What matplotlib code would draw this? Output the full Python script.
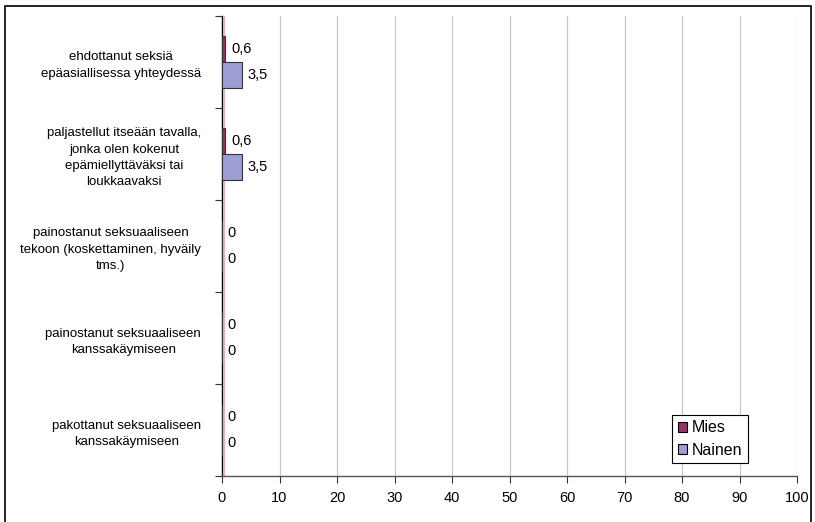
import numpy as np
import matplotlib.pyplot as plt
from matplotlib.patches import Rectangle, Patch

plt.rcParams['font.family'] = ['Liberation Sans', 'DejaVu Sans']

# categories, top to bottom as in the chart
categories = [
    "ehdottanut seksiä\nepäasiallisessa yhteydessä",
    "paljastellut itseään tavalla,\njonka olen kokenut\nepämiellyttäväksi tai\nloukkaavaksi",
    "painostanut seksuaaliseen\ntekoon (koskettaminen, hyväily\ntms.)",
    "painostanut seksuaaliseen\nkanssakäymiseen",
    "pakottanut seksuaaliseen\nkanssakäymiseen",
]
mies = [0.6, 0.6, 0, 0, 0]
nainen = [3.5, 3.5, 0, 0, 0]
x_ticks = list(range(0, 101, 10))

mies_color = "#993366"
nainen_color = "#9C9ED4"

fig = plt.figure(figsize=(8.15, 5.22), dpi=100)
ax = fig.add_axes([222 / 815, 1 - 476 / 522, 575 / 815, 460 / 522])

n = len(categories)
y = np.arange(n)[::-1].astype(float)
h = 0.286

ax.barh(y + h / 2, mies, height=h, color=mies_color, edgecolor="#333333", linewidth=0.8, zorder=3)
ax.barh(y - h / 2, nainen, height=h, color=nainen_color, edgecolor="#333333", linewidth=0.8, zorder=3)

def fmt(v):
    return f"{v:g}".replace(".", ",")

for yi, v in zip(y, mies):
    ax.annotate(fmt(v), (v, yi + h / 2), xytext=(4, 0), textcoords="offset points",
                va="center", ha="left", fontsize=10.5)
for yi, v in zip(y, nainen):
    ax.annotate(fmt(v), (v, yi - h / 2), xytext=(4, 0), textcoords="offset points",
                va="center", ha="left", fontsize=10.5)

ax.set_xlim(0, 100)
ax.set_ylim(-0.5, n - 0.5)
ax.set_xticks(x_ticks)
ax.set_xticklabels([str(t) for t in x_ticks], fontsize=10.5)
ax.tick_params(axis="x", length=5, width=0.8, color="#333333", pad=6)

ax.set_yticks(np.arange(-0.5, n, 1.0))
ax.set_yticklabels([])
ax.tick_params(axis="y", which="major", length=5, width=0.8, color="#333333")
ax.set_yticks(y, minor=True)
ax.set_yticklabels(categories, minor=True, fontsize=9.5, multialignment="center")
ax.tick_params(axis="y", which="minor", length=0, pad=15)
for t in ax.get_yticklabels(minor=True):
    t.set_linespacing(1.45)

ax.grid(axis="x", color="#C8C8C8", linewidth=0.9, zorder=0)
ax.axvline(0.3, color="#E8B0D0", linewidth=0.9, zorder=1)

for side in ["top", "right"]:
    ax.spines[side].set_visible(False)
ax.spines["left"].set_color("black")
ax.spines["left"].set_linewidth(1.0)
ax.spines["bottom"].set_color("#555555")
ax.spines["bottom"].set_linewidth(1.0)

handles = [Patch(facecolor=mies_color, edgecolor="black", linewidth=0.8),
           Patch(facecolor=nainen_color, edgecolor="black", linewidth=0.8)]
leg = ax.legend(handles, ["Mies", "Nainen"], loc="lower left",
                bbox_to_anchor=(0.7826, 0.028), fontsize=11.5, fancybox=False,
                framealpha=1, edgecolor="black", handlelength=0.6, handleheight=0.6,
                handletextpad=0.3, borderpad=0.35, labelspacing=0.45, borderaxespad=0)
leg.get_frame().set_linewidth(0.8)

fig.patches.append(Rectangle((5 / 815, -0.05), 806 / 815, 1.05 - 6 / 522,
                             transform=fig.transFigure, fill=False,
                             edgecolor="black", linewidth=1.2))

fig.savefig("out.png", dpi=100)
